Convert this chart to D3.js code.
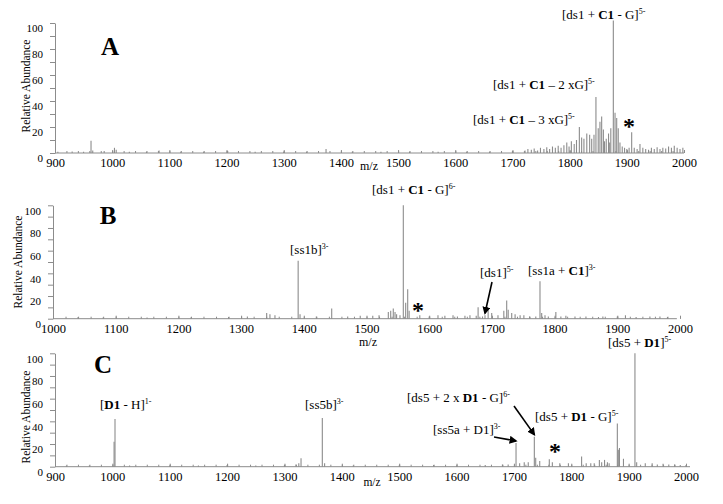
<!DOCTYPE html>
<html>
<head>
<meta charset="utf-8">
<script src="https://cdn.jsdelivr.net/npm/d3@7"></script>
<style>
    body { margin: 0; background: #fff; }
    svg text { font-family: "Liberation Serif", "Times New Roman", serif; fill: #000; }
</style>
</head>
<body>
<div id="chart"></div>
<script>
// peak lists, [m/z, relative abundance]
const peaksA = [
    [905, 1], [930, 1.2], [950, 1], [963, 9.5], [966, 2], [986, 1.5], [1004, 4], [1007, 2.5],
    [1030, 1], [1060, 1], [1082, 2], [1120, 1], [1160, 1], [1202, 1.5], [1250, 1], [1300, 1],
    [1340, 1], [1374, 3], [1420, 1], [1470, 1], [1520, 1], [1570, 1], [1620, 1], [1660, 1], [1700, 1.5],
    [1722, 2], [1727, 3], [1733, 2.5], [1738, 3.5], [1744, 2], [1749, 4], [1755, 3], [1760, 4.5],
    [1765, 3], [1770, 5], [1775, 4], [1780, 5.5], [1785, 4], [1790, 6], [1795, 8], [1799, 5],
    [1803, 9], [1808, 7], [1812, 10], [1817, 20], [1821, 12], [1825, 11], [1830, 15], [1835, 14],
    [1838.6, 11], [1842.6, 14], [1846, 43], [1850, 19], [1853, 24], [1856, 28], [1859, 18], [1861, 9],
    [1864, 11], [1868, 15], [1870, 8], [1872, 19], [1876.4, 102], [1879.4, 31], [1882.3, 27], [1885, 19],
    [1888, 8], [1892, 5], [1896, 4], [1900, 3], [1904, 4], [1908.5, 16], [1913, 4], [1918, 3],
    [1923, 7], [1928, 4], [1933, 3], [1938, 2.5], [1943, 4], [1948, 3], [1953, 4.5], [1958, 3],
    [1963, 4], [1968, 3.5], [1973, 5], [1978, 4], [1983, 5.5], [1988, 4], [1993, 3], [1998, 4]
];

const peaksB = [
    [1040, 1.5], [1080, 1], [1150, 1], [1220, 1], [1280, 1.5], [1310, 2], [1340.8, 5], [1346, 4],
    [1354, 3], [1391, 51], [1394, 4], [1420, 2], [1444.5, 9], [1470, 2], [1490, 2.5], [1510, 2.5],
    [1520, 3], [1534.8, 6], [1538.6, 7], [1542.7, 9], [1545.5, 6], [1548, 4], [1553.4, 3],
    [1558.7, 100], [1562.5, 14], [1565.7, 26], [1568, 7], [1585, 3], [1600, 2], [1614, 3],
    [1625, 2.5], [1638, 3], [1645, 2], [1657, 2.5], [1665, 3], [1675, 2.5], [1678, 10], [1685, 2],
    [1689, 3], [1694, 10], [1699.7, 5], [1709.7, 3], [1719, 7], [1723.6, 16], [1726, 8], [1731.6, 5],
    [1737, 4], [1745, 3], [1751, 3], [1760, 2], [1770, 2], [1776.7, 33], [1779.4, 5], [1784.7, 3],
    [1790, 2], [1802, 6], [1810, 2], [1818, 2.5], [1832.5, 2], [1850, 2], [1870, 1.5], [1877, 2],
    [1900, 2], [1913, 3], [1930, 1.5], [1952, 2], [1968, 2], [1980, 1.5]
];

const peaksC = [
    [920, 1], [960, 1], [1003, 22], [1004.6, 42], [1030, 1], [1100, 1], [1150, 1], [1200, 1.5],
    [1250, 1], [1300, 1.5], [1320, 2], [1325, 3], [1328.9, 7.5], [1366, 43], [1370, 3], [1420, 1],
    [1500, 1], [1560, 1.5], [1600, 1], [1650, 1.5], [1680, 2], [1690, 2], [1703.7, 21], [1710, 3],
    [1718, 4], [1725, 4], [1735.6, 26.5], [1738, 8], [1745, 5], [1761.7, 6.5], [1767, 4], [1780, 3],
    [1795, 3], [1818, 9], [1826, 3], [1834, 3], [1840, 3], [1849, 6], [1853, 4], [1858, 6],
    [1863, 4], [1866, 3], [1880.3, 38], [1882, 15], [1884, 16.5], [1891, 7], [1911, 100], [1914, 4],
    [1929, 3], [1941, 3], [1950, 2], [1960, 2.5], [1970, 2], [1980, 2], [1990, 1.5], [2000, 1.5]
];

const yTicks = [0, 20, 40, 60, 80, 100];
const xTicksA = [900, 1000, 1100, 1200, 1300, 1400, 1500, 1600, 1700, 1800, 1900, 2000];
const xTicksB = [1000, 1100, 1200, 1300, 1400, 1500, 1600, 1700, 1800, 1900, 2000];
const xTicksC = [900, 1000, 1100, 1200, 1300, 1400, 1500, 1600, 1700, 1800, 1900, 2000];

// annotation texts: [text, style]  (b = bold, sup = superscript)
const labelsA = [
    [["[ds1 + "], ["C1", "b"], [" - G]"], ["5-", "sup"]],
    [["[ds1 + "], ["C1", "b"], [" \u2013 2 xG]"], ["5-", "sup"]],
    [["[ds1 + "], ["C1", "b"], [" \u2013 3 xG]"], ["5-", "sup"]]
];
const labelsB = [
    [["[ds1 + "], ["C1", "b"], [" - G]"], ["6-", "sup"]],
    [["[ss1b]"], ["3-", "sup"]],
    [["[ds1]"], ["5-", "sup"]],
    [["[ss1a + "], ["C1", "b"], ["]"], ["3-", "sup"]]
];
const labelsC = [
    [["["], ["D1", "b"], [" - H]"], ["1-", "sup"]],
    [["[ss5b]"], ["3-", "sup"]],
    [["[ds5 + "], ["D1", "b"], ["]"], ["5-", "sup"]],
    [["[ds5 + 2 x "], ["D1", "b"], [" - G]"], ["6-", "sup"]],
    [["[ds5 + "], ["D1", "b"], [" - G]"], ["5-", "sup"]],
    [["[ss5a + D1]"], ["3-", "sup"]]
];

class SpectrumPanel {
    constructor(svg, cfg) {
        this.svg = svg;
        this.cfg = cfg;
        this.initVis();
    }

    initVis() {
        let vis = this;
        let cfg = vis.cfg;

        vis.grey = "#8c8c8c";
        vis.g = vis.svg.append("g");

        vis.x = d3.scaleLinear().domain(cfg.domain).range(cfg.xRange);
        vis.y = d3.scaleLinear().domain([0, 100]).range([cfg.y0, cfg.y100]);

        // baseline along the m/z axis
        vis.g.append("line")
            .attr("x1", cfg.xRange[0]).attr("x2", vis.x(cfg.dataEnd))
            .attr("y1", vis.y(0)).attr("y2", vis.y(0))
            .attr("stroke", vis.grey);

        // small upward ticks on the baseline
        let minor = d3.axisBottom(vis.x)
            .tickValues(d3.range(cfg.domain[0], cfg.domain[1] + 1, 20))
            .tickSize(-2).tickSizeOuter(0).tickFormat("");
        vis.g.append("g").attr("transform", `translate(0,${vis.y(0)})`).call(minor)
            .call(g => g.select(".domain").remove())
            .call(g => g.selectAll("line").attr("stroke", vis.grey));

        let xAxis = d3.axisBottom(vis.x)
            .tickValues(cfg.xTicks).tickSize(-3).tickSizeOuter(0).tickPadding(5)
            .tickFormat(d3.format("d"));
        vis.g.append("g").attr("transform", `translate(0,${vis.y(0)})`).call(xAxis)
            .call(g => g.select(".domain").remove())
            .call(g => g.selectAll("line").attr("stroke", vis.grey))
            .call(g => g.selectAll("text")
                .style("font-size", "12.5px")
                .style("font-family", "'Liberation Serif', serif")
                .attr("fill", "#000"));

        // y axis
        let yAxis = d3.axisLeft(vis.y)
            .tickValues(d3.range(0, 101, 10)).tickSize(5).tickSizeOuter(0).tickPadding(7)
            .tickFormat(d => yTicks.includes(d) ? d : "");
        vis.g.append("g").attr("transform", `translate(${cfg.xRange[0]},0)`).call(yAxis)
            .call(g => g.select(".domain").attr("stroke", vis.grey))
            .call(g => g.selectAll("line").attr("stroke", vis.grey))
            .call(g => g.selectAll("text")
                .attr("dy", "0.8em")
                .style("font-size", "11px")
                .style("font-family", "'Liberation Serif', serif")
                .attr("fill", "#000"));

        vis.g.append("text")
            .attr("transform", `translate(${cfg.yTitle[0]},${cfg.yTitle[1]}) rotate(-90)`)
            .attr("text-anchor", "middle").attr("dy", "0.35em")
            .style("font-size", "11.5px")
            .text("Relative Abundance");

        vis.g.append("text")
            .attr("x", cfg.mz[0]).attr("y", cfg.mz[1])
            .attr("text-anchor", "middle")
            .style("font-size", cfg.mz[2] + "px")
            .text("m/z");

        vis.g.append("text")
            .attr("x", cfg.letter[0]).attr("y", cfg.letter[1])
            .attr("text-anchor", "middle")
            .style("font-size", "25px").style("font-weight", "bold")
            .text(cfg.name);

        // the spectrum sticks
        vis.g.selectAll(".peak")
            .data(cfg.peaks)
            .join("line")
            .attr("class", "peak")
            .attr("x1", d => vis.x(d[0])).attr("x2", d => vis.x(d[0]))
            .attr("y1", vis.y(0)).attr("y2", d => vis.y(d[1]))
            .attr("stroke", vis.grey)
            .attr("stroke-width", 1.1);

        cfg.labels.forEach((parts, i) => {
            let pos = cfg.labelPos[i];
            let t = vis.g.append("text").attr("x", pos[0]).attr("y", pos[1])
                .style("font-size", "13px");
            parts.forEach(p => {
                let s = t.append("tspan").text(p[0]);
                if (p[1] === "b") s.style("font-weight", "bold");
                if (p[1] === "sup") s.attr("dy", -5).style("font-size", "8px");
            });
        });

        cfg.stars.forEach(s => {
            vis.g.append("text")
                .attr("x", s[0]).attr("y", s[1] + 11)
                .attr("text-anchor", "middle")
                .style("font-size", "24px").style("font-weight", "bold")
                .text("*");
        });

        // arrows point at a peak: [tailX, tailY, m/z, abundance]
        cfg.arrows.forEach(a => {
            vis.g.append("line")
                .attr("x1", a[0]).attr("y1", a[1])
                .attr("x2", vis.x(a[2])).attr("y2", vis.y(a[3]) - 2)
                .attr("stroke", "#000").attr("stroke-width", 1.6)
                .attr("marker-end", "url(#head)");
        });
    }
}

let svg = d3.select("#chart").append("svg")
    .attr("width", 723).attr("height", 504);

svg.append("defs").append("marker")
    .attr("id", "head")
    .attr("viewBox", "0 0 10 10")
    .attr("refX", 8).attr("refY", 5)
    .attr("markerWidth", 5).attr("markerHeight", 5)
    .attr("orient", "auto")
    .append("path").attr("d", "M0,0L10,5L0,10z").attr("fill", "#000");

new SpectrumPanel(svg, {
    name: "A", peaks: peaksA, labels: labelsA, xTicks: xTicksA,
    domain: [900, 2000], xRange: [55, 684], dataEnd: 2000,
    y0: 153, y100: 23,
    yTitle: [26, 86], mz: [369, 170, 12], letter: [110, 55],
    labelPos: [[562, 19], [493, 89], [473, 124]],
    stars: [[629, 123]],
    arrows: []
});

new SpectrumPanel(svg, {
    name: "B", peaks: peaksB, labels: labelsB, xTicks: xTicksB,
    domain: [1000, 2000], xRange: [53, 680], dataEnd: 1995,
    y0: 318.7, y100: 205.3,
    yTitle: [18, 262], mz: [368, 346, 12], letter: [108, 224],
    labelPos: [[372, 194], [290, 254], [480, 277], [528, 275]],
    stars: [[418, 307]],
    arrows: [[492, 282, 1689, 3]]
});

new SpectrumPanel(svg, {
    name: "C", peaks: peaksC, labels: labelsC, xTicks: xTicksC,
    domain: [900, 2000], xRange: [55, 686], dataEnd: 2007,
    y0: 466.7, y100: 353.3,
    yTitle: [26, 417], mz: [372, 486, 11.5], letter: [103, 373],
    labelPos: [[100, 409], [305, 409], [608, 347], [407, 402], [535, 421], [433, 434]],
    stars: [[555, 448]],
    arrows: [[514, 406, 1735.6, 26.5], [494, 437, 1703.7, 21]]
});
</script>
</body>
</html>
